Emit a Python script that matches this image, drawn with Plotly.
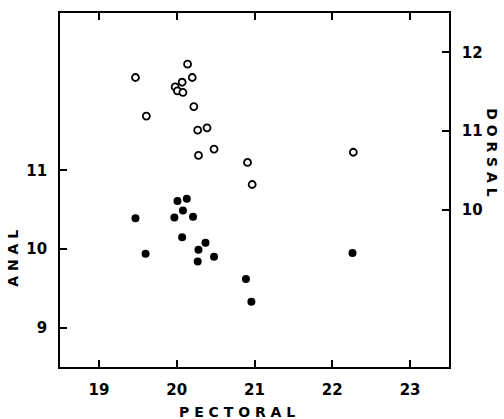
import plotly.graph_objects as go

# Dorsal fin-ray counts (open circles, right axis) vs pectoral
pectoral_dorsal = [19.47, 20.14, 20.20, 20.07, 19.98, 20.01, 20.08, 20.22, 19.61,
                   20.27, 20.39, 20.48, 20.28, 20.91, 20.97, 22.27]
dorsal = [11.68, 11.85, 11.68, 11.62, 11.56, 11.51, 11.49, 11.31, 11.19,
          11.01, 11.04, 10.77, 10.69, 10.60, 10.32, 10.73]

# Anal fin-ray counts (filled circles, left axis) vs pectoral
pectoral_anal = [19.47, 19.60, 19.97, 20.01, 20.13, 20.08, 20.21, 20.07, 20.37,
                 20.28, 20.27, 20.48, 20.89, 20.96, 22.26]
anal = [10.39, 9.94, 10.40, 10.61, 10.64, 10.49, 10.41, 10.15, 10.08,
        9.99, 9.84, 9.90, 9.62, 9.33, 9.95]

x_ticks = [19, 20, 21, 22, 23]
anal_ticks = [9, 10, 11]
dorsal_ticks = [10, 11, 12]

tickfont = dict(family="DejaVu Sans", size=15, color="black", weight="bold")
titlefont = dict(family="DejaVu Sans", size=14, color="black", weight="bold")

fig = go.Figure()
fig.add_trace(go.Scatter(
    x=pectoral_anal, y=anal, mode="markers", yaxis="y",
    marker=dict(symbol="circle", size=8, color="black",
                line=dict(color="black", width=0)),
    showlegend=False, hoverinfo="skip"))
fig.add_trace(go.Scatter(
    x=pectoral_dorsal, y=dorsal, mode="markers", yaxis="y2",
    marker=dict(symbol="circle", size=7, color="white",
                line=dict(color="black", width=1.8)),
    showlegend=False, hoverinfo="skip"))

axis_common = dict(showgrid=False, zeroline=False, showline=True,
                   linecolor="black", linewidth=1.6,
                   ticks="inside", ticklen=7, tickwidth=1.5, tickcolor="black",
                   tickfont=tickfont)

fig.update_layout(
    width=504, height=419,
    margin=dict(l=60, r=55, t=11, b=52),
    paper_bgcolor="white", plot_bgcolor="white",
    xaxis=dict(range=[18.5, 23.5], tickvals=x_ticks,
               ticktext=[str(v) for v in x_ticks], mirror="ticks",
               ticklabelstandoff=8, **axis_common),
    yaxis=dict(range=[8.5, 13.0], tickvals=anal_ticks,
               ticktext=[str(v) for v in anal_ticks],
               ticklabelstandoff=8, **axis_common),
    yaxis2=dict(range=[8.0, 12.5], tickvals=dorsal_ticks,
                ticktext=[str(v) for v in dorsal_ticks],
                overlaying="y", side="right",
                ticklabelstandoff=8, **axis_common),
    annotations=[
        dict(text="P E C T O R A L", xref="paper", yref="paper",
             x=0.455, y=-0.1264, showarrow=False, font=titlefont,
             xanchor="center", yanchor="middle"),
        dict(text="A N A L", xref="paper", yref="paper",
             x=-0.1208, y=0.306, showarrow=False, font=titlefont,
             textangle=-90, xanchor="center", yanchor="middle"),
        dict(text="D O R S A L", xref="paper", yref="paper",
             x=1.1105, y=0.604, showarrow=False, font=titlefont,
             textangle=90, xanchor="center", yanchor="middle"),
    ],
)

fig.write_html("out.html")
